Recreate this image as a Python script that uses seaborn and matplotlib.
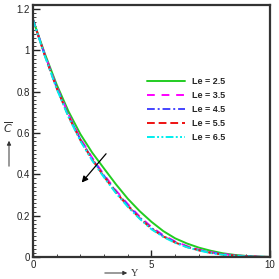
import numpy as np
import pandas as pd
import matplotlib
matplotlib.use("Agg")
import matplotlib.pyplot as plt
import seaborn as sns
from matplotlib.ticker import MultipleLocator, FuncFormatter


# ---------------- DATA ----------------
y_coord = [0.0, 0.5, 1.0, 1.5, 2.0, 2.5, 3.0, 3.5, 4.0, 4.5, 5.0,
           5.5, 6.0, 6.5, 7.0, 7.5, 8.0, 8.5, 9.0, 9.5, 10.0]

le_labels = ["Le = 2.5", "Le = 3.5", "Le = 4.5", "Le = 5.5", "Le = 6.5"]

c_le25 = [1.150, 0.985, 0.835, 0.705, 0.595, 0.505, 0.428, 0.352, 0.282, 0.222, 0.170,
          0.125, 0.090, 0.065, 0.045, 0.030, 0.018, 0.010, 0.005, 0.002, 0.000]
c_le35 = [1.150, 0.980, 0.825, 0.690, 0.575, 0.480, 0.398, 0.322, 0.256, 0.196, 0.145,
          0.105, 0.075, 0.052, 0.035, 0.023, 0.014, 0.008, 0.004, 0.001, 0.000]
c_le45 = [1.150, 0.978, 0.821, 0.685, 0.570, 0.475, 0.393, 0.317, 0.251, 0.191, 0.140,
          0.101, 0.072, 0.050, 0.033, 0.021, 0.013, 0.007, 0.003, 0.001, 0.000]
c_le55 = [1.150, 0.976, 0.818, 0.681, 0.566, 0.471, 0.389, 0.313, 0.247, 0.188, 0.137,
          0.099, 0.070, 0.048, 0.032, 0.020, 0.012, 0.007, 0.003, 0.001, 0.000]
c_le65 = [1.150, 0.974, 0.815, 0.678, 0.562, 0.467, 0.385, 0.309, 0.243, 0.185, 0.134,
          0.097, 0.068, 0.047, 0.031, 0.019, 0.011, 0.006, 0.003, 0.001, 0.000]

series = [c_le25, c_le35, c_le45, c_le55, c_le65]

# ---------------- STYLE ----------------
colors = {
    "Le = 2.5": "#22cc22",
    "Le = 3.5": "#ff00ff",
    "Le = 4.5": "#4444ff",
    "Le = 5.5": "#ee1111",
    "Le = 6.5": "#00eeee",
}
dashes = {
    "Le = 2.5": "",
    "Le = 3.5": (4, 3.5),
    "Le = 4.5": (4, 1.5, 1, 1.5),
    "Le = 5.5": (4, 2),
    "Le = 6.5": (4, 1.2, 1, 1.2, 1, 1.2),
}

rows = []
for label, vals in zip(le_labels, series):
    for x, v in zip(y_coord, vals):
        rows.append({"Y": x, "C": v, "Le": label})
df = pd.DataFrame(rows)

sns.set_style("ticks")
plt.rcParams["font.family"] = ["Liberation Sans", "DejaVu Sans"]

fig = plt.figure(figsize=(2.79, 2.79), dpi=100)
ax = fig.add_axes([0.118, 0.079, 0.850, 0.903])

sns.lineplot(data=df, x="Y", y="C", hue="Le", style="Le",
             palette=colors, dashes=dashes, linewidth=1.4, ax=ax,
             hue_order=le_labels, style_order=le_labels)

ax.set_xlim(0, 10)
ax.set_ylim(0, 1.22)
ax.set_xlabel("")
ax.set_ylabel("")

ax.xaxis.set_major_locator(MultipleLocator(5))
ax.xaxis.set_minor_locator(MultipleLocator(1))
ax.yaxis.set_major_locator(MultipleLocator(0.2))
ax.yaxis.set_minor_locator(MultipleLocator(0.02))
ax.yaxis.set_major_formatter(FuncFormatter(lambda v, p: f"{v:g}"))

ax.tick_params(which="major", direction="in", length=5, width=1.0,
               labelsize=7, pad=2, colors="#222222")
ax.tick_params(which="minor", direction="in", length=2.5, width=0.6,
               colors="#222222")
for s in ax.spines.values():
    s.set_linewidth(1.6)
    s.set_color("#333333")

# ---------------- LEGEND ----------------
leg = ax.legend(loc="center left", bbox_to_anchor=(0.48, 0.585),
                frameon=False, fontsize=6.5, handlelength=4.2,
                handletextpad=0.8, labelspacing=0.55,
                borderpad=0, borderaxespad=0)
for t in leg.get_texts():
    t.set_fontweight("bold")

# ---------------- ARROWS / LABELS ----------------
ax.annotate("", xy=(1.98, 0.35), xytext=(3.16, 0.51),
            arrowprops=dict(arrowstyle="-|>", color="black", lw=0.9,
                            mutation_scale=9))

fig.text(8 / 279, 1 - 128 / 279, r"$\overline{C}$", fontsize=8,
         ha="center", va="center", family="Liberation Serif", color="#333333")
fig.patches.append(matplotlib.patches.FancyArrowPatch(
    (9 / 279, 1 - 169 / 279), (9 / 279, 1 - 138 / 279),
    transform=fig.transFigure, arrowstyle="-|>", mutation_scale=6,
    lw=0.7, color="#333333"))

fig.patches.append(matplotlib.patches.FancyArrowPatch(
    (102 / 279, 1 - 273 / 279), (130 / 279, 1 - 273 / 279),
    transform=fig.transFigure, arrowstyle="-|>", mutation_scale=6,
    lw=0.7, color="#333333"))
fig.text(131 / 279, 1 - 273 / 279, "Y", fontsize=7.5, ha="left", va="center",
         family="Liberation Serif", color="#333333")

fig.savefig("out.png", dpi=100)
plt.close(fig)
